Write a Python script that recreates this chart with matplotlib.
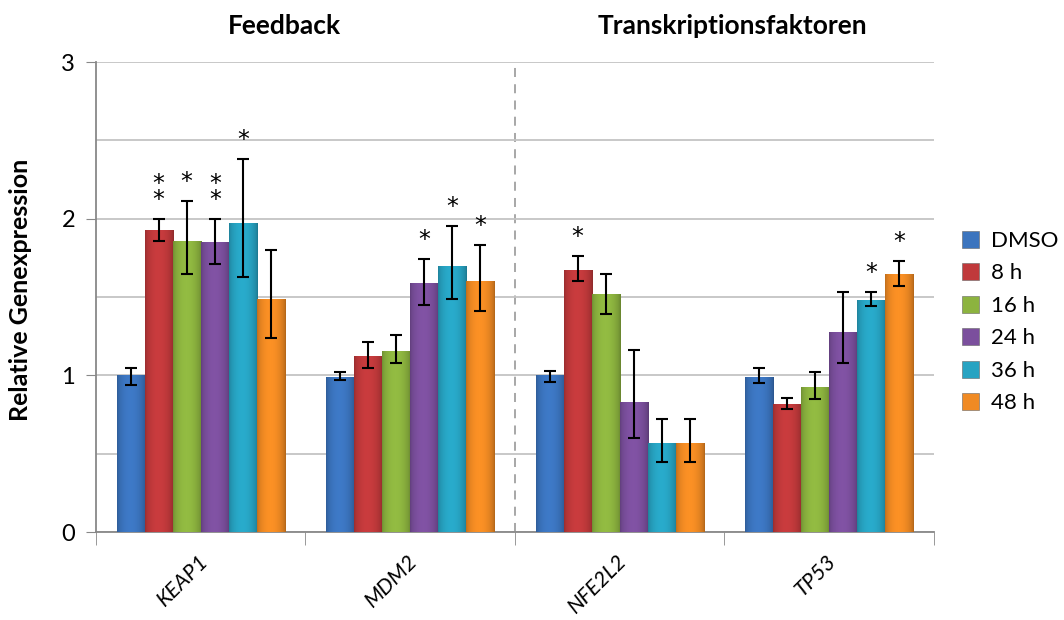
import numpy as np
import matplotlib.pyplot as plt
from matplotlib.patches import Patch
from matplotlib.colors import to_rgb

plt.rcParams['font.family'] = ['Lato', 'DejaVu Sans']

genes = ['KEAP1', 'MDM2', 'NFE2L2', 'TP53']
series = ['DMSO', '8 h', '16 h', '24 h', '36 h', '48 h']
colors = ['#3B74BE', '#C0393B', '#8CB33F', '#7B4F9D', '#27A3C2', '#F08A23']

# bar heights per series (KEAP1, MDM2, NFE2L2, TP53)
dmso = [1.00, 0.99, 1.00, 0.99]
h8 = [1.93, 1.125, 1.675, 0.817]
h16 = [1.86, 1.157, 1.517, 0.925]
h24 = [1.85, 1.59, 0.83, 1.28]
h36 = [1.97, 1.70, 0.57, 1.48]
h48 = [1.49, 1.60, 0.57, 1.645]

# error bar ends (upper / lower)
hi_dmso = [1.05, 1.02, 1.03, 1.045]
lo_dmso = [0.94, 0.97, 0.96, 0.95]
hi_h8 = [2.00, 1.215, 1.76, 0.857]
lo_h8 = [1.86, 1.05, 1.60, 0.785]
hi_h16 = [2.11, 1.26, 1.65, 1.02]
lo_h16 = [1.645, 1.077, 1.39, 0.85]
hi_h24 = [2.00, 1.745, 1.16, 1.53]
lo_h24 = [1.71, 1.45, 0.60, 1.08]
hi_h36 = [2.38, 1.955, 0.723, 1.53]
lo_h36 = [1.63, 1.485, 0.449, 1.44]
hi_h48 = [1.80, 1.83, 0.72, 1.73]
lo_h48 = [1.24, 1.41, 0.449, 1.57]

# number of significance stars
st_dmso = [0, 0, 0, 0]
st_h8 = [2, 0, 1, 0]
st_h16 = [1, 0, 0, 0]
st_h24 = [2, 1, 0, 0]
st_h36 = [1, 1, 0, 1]
st_h48 = [0, 1, 0, 1]

vals = [dmso, h8, h16, h24, h36, h48]
his = [hi_dmso, hi_h8, hi_h16, hi_h24, hi_h36, hi_h48]
los = [lo_dmso, lo_h8, lo_h16, lo_h24, lo_h36, lo_h48]
stars = [st_dmso, st_h8, st_h16, st_h24, st_h36, st_h48]

fig = plt.figure(figsize=(10.64, 6.2), dpi=100)
ax = fig.add_axes([0.0902, 0.1419, 0.7876, 0.758])

# horizontal shading profile for a bevel-ish look
t = np.linspace(0, 1, 40)
shade = 0.80 + 0.28 * np.sin(np.pi * t) ** 0.6 - 0.06 * t

x = np.arange(len(genes))
w = 0.134
for i in range(len(series)):
    v = np.array(vals[i])
    xs = x + (i - 2.5) * w
    err = [v - np.array(los[i]), np.array(his[i]) - v]
    bars = ax.bar(xs, v, w, color=colors[i], edgecolor='#666666', linewidth=0.4, zorder=3)
    base = np.array(to_rgb(colors[i]))
    img = np.clip(base[None, None, :] * shade[None, :, None], 0, 1)
    for b in bars:
        im = ax.imshow(img, extent=[b.get_x(), b.get_x() + b.get_width(), 0, b.get_height()],
                       aspect='auto', zorder=3.1, interpolation='bilinear')
        im.set_clip_path(b)
    ax.errorbar(xs, v, yerr=err, fmt='none', ecolor='black', elinewidth=1.5,
                capsize=4.5, capthick=1.5, zorder=4)
    for j in range(len(genes)):
        n = stars[i][j]
        if n:
            ax.text(xs[j], his[i][j] + 0.045, '\n'.join(['*'] * n), ha='center', va='bottom',
                    fontsize=17, family='DejaVu Sans', linespacing=0.55, zorder=5)

ax.set_xlim(-0.5, 3.5)
ax.set_ylim(0, 3)
ax.set_yticks([0, 1, 2, 3])
ax.set_yticks([0.5, 1.5, 2.5], minor=True)
ax.tick_params(axis='y', which='major', labelsize=17, length=7, color='#888888', pad=8)
ax.tick_params(axis='y', which='minor', length=0)
ax.grid(axis='y', which='both', color='#C4C4C4', linewidth=1.3, zorder=0)

ax.set_xticks(x)
ax.set_xticklabels([])
ax.set_xticks([-0.5, 0.5, 1.5, 2.5, 3.5], minor=True)
ax.tick_params(axis='x', which='major', length=0)
ax.tick_params(axis='x', which='minor', length=9, color='#888888')
for j, g in enumerate(genes):
    ax.text(j + 0.02, -0.165, g, rotation=45, ha='right', va='center', rotation_mode='anchor',
            fontsize=15.5, style='italic', transform=ax.transData)

ax.axvline(1.5, color='#A0A0A0', linestyle=(0, (5, 4)), linewidth=1.3, zorder=1)

for s in ['top', 'right']:
    ax.spines[s].set_visible(False)
for s in ['left', 'bottom']:
    ax.spines[s].set_color('#888888')
    ax.spines[s].set_linewidth(1.3)

ax.set_ylabel('Relative Genexpression', fontsize=18, fontweight='bold')
ax.yaxis.set_label_coords(-0.076, 0.515)

ax.text(0.40, 3.23, 'Feedback', ha='center', va='center', fontsize=19, fontweight='bold')
ax.text(2.54, 3.23, 'Transkriptionsfaktoren', ha='center', va='center', fontsize=19,
        fontweight='bold')

handles = [Patch(facecolor=c, edgecolor='#666666', linewidth=0.4) for c in colors]
fig.legend(handles, series, loc='upper left', bbox_to_anchor=(0.885, 0.66), frameon=False,
           fontsize=16, handlelength=0.8, handleheight=0.8, handletextpad=0.5,
           labelspacing=0.55)

fig.savefig('out.png', dpi=100)
